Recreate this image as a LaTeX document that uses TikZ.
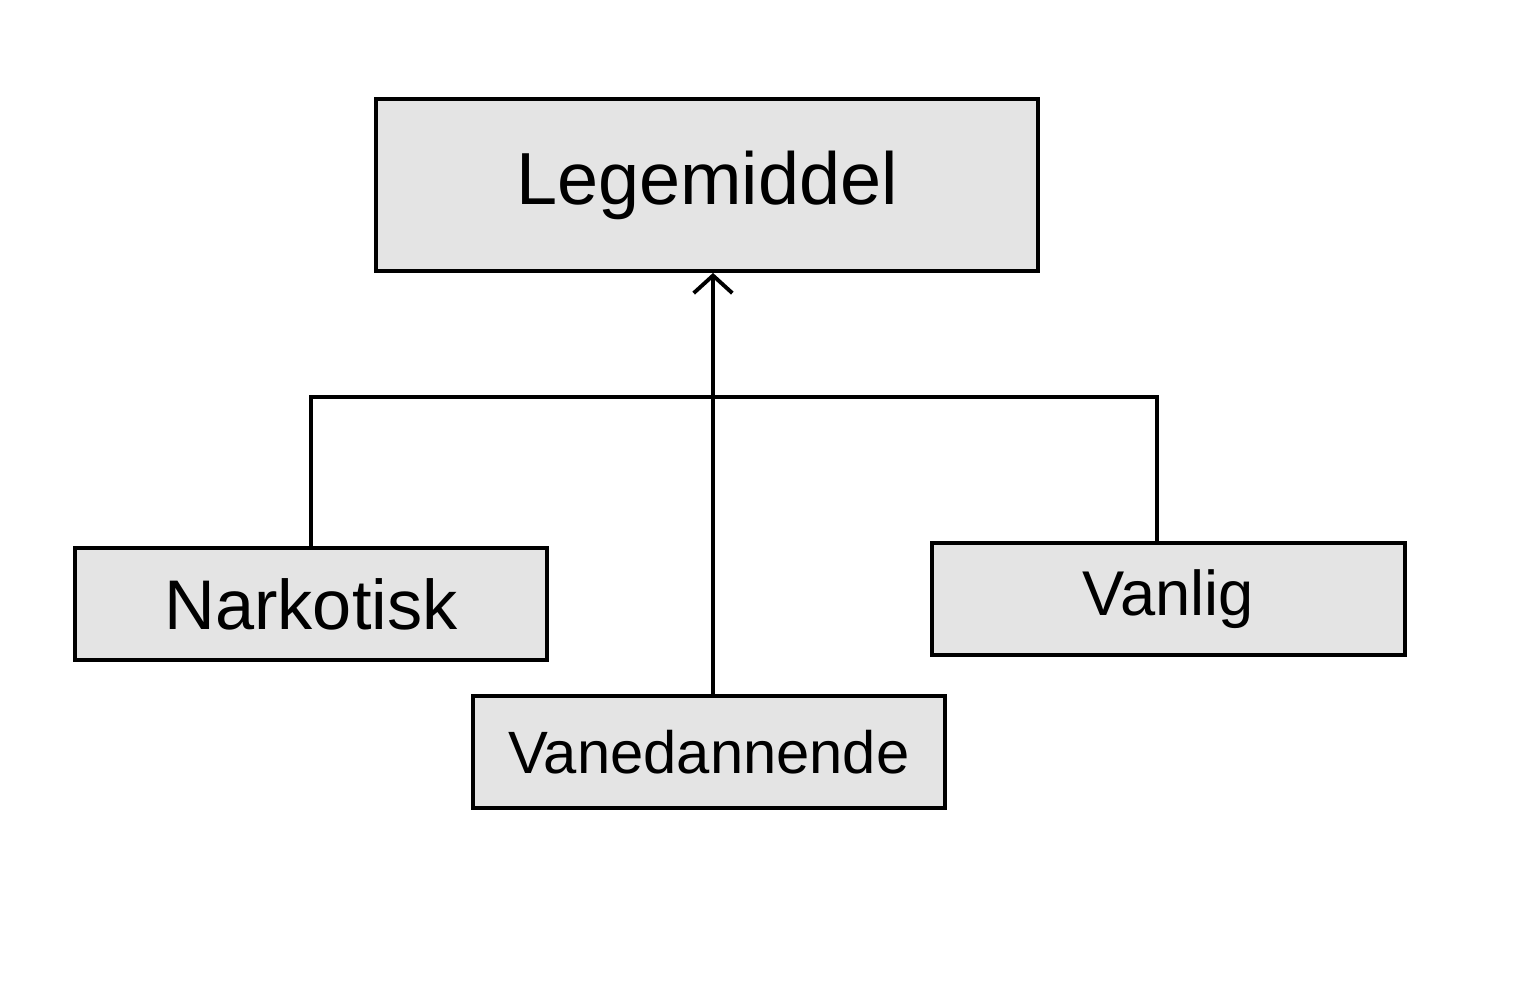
\documentclass[tikz,border=0pt]{standalone}
\usepackage{fontspec}
\setmainfont{Liberation Sans}
\usetikzlibrary{arrows.meta}
\definecolor{boxgray}{RGB}{228,228,228}
\begin{document}
\begin{tikzpicture}[
    klasse/.style={draw, fill=boxgray, line width=1.1pt, inner sep=0pt},
    pil/.style={line width=1.1pt, -{Straight Barb[length=5pt, width=11pt, line width=1.1pt]}}
  ]
  \useasboundingbox (0, 0) rectangle (15.25, -10);

  \node[klasse, minimum width=6.62cm, minimum height=1.72cm, font=\fontsize{21}{25}\selectfont] (legemiddel) at (7.07, -1.85) {Legemiddel};

  \node[klasse, minimum width=4.72cm, minimum height=1.12cm, font=\fontsize{20}{24}\selectfont] (narkotisk) at (3.11, -6.04) {Narkotisk};
  \node[klasse, minimum width=4.72cm, minimum height=1.12cm, font=\fontsize{17}{20}\selectfont] (vanedannende) at (7.09, -7.52) {Vanedannende};
  \node[klasse, minimum width=4.73cm, minimum height=1.12cm, font=\fontsize{18}{22}\selectfont] (vanlig) at (11.685, -5.99) {Vanlig};

  \coordinate (skinne) at (7.13, -3.97);

  \draw[line width=1.1pt] (narkotisk.north) -- (narkotisk.north |- skinne)
    -- ([xshift=-0.115cm]vanlig.north |- skinne) -- ([xshift=-0.115cm]vanlig.north);
  \draw[pil] ([xshift=0.04cm]vanedannende.north) -- ([xshift=0.04cm]vanedannende.north |- legemiddel.south);
\end{tikzpicture}
\end{document}
